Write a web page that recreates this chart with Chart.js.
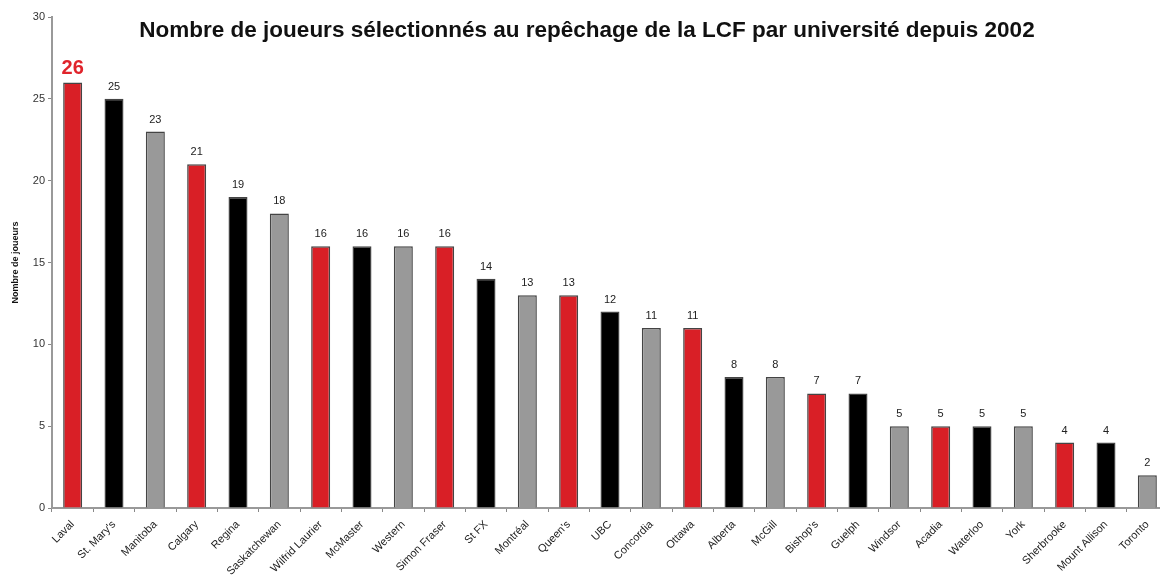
<!DOCTYPE html>
<html>
<head>
<meta charset="utf-8">
<script src="https://cdn.jsdelivr.net/npm/chart.js@4/dist/chart.umd.min.js"></script>
<style>
  html, body { margin: 0; padding: 0; background: #fff; overflow: hidden; }
  #wrap { width: 1180px; height: 582px; }
</style>
</head>
<body>
<div id="wrap"><canvas id="chartBar"></canvas></div>
<script>
const universities = ["Laval", "St. Mary's", "Manitoba", "Calgary", "Regina", "Saskatchewan",
  "Wilfrid Laurier", "McMaster", "Western", "Simon Fraser", "St FX", "Montréal", "Queen's",
  "UBC", "Concordia", "Ottawa", "Alberta", "McGill", "Bishop's", "Guelph", "Windsor",
  "Acadia", "Waterloo", "York", "Sherbrooke", "Mount Allison", "Toronto"];
const players = [26, 25, 23, 21, 19, 18, 16, 16, 16, 16, 14, 13, 13, 12, 11, 11, 8, 8, 7, 7, 5, 5, 5, 5, 4, 4, 2];
const yTicks = [0, 5, 10, 15, 20, 25, 30];
const palette = ['#d91f26', '#000000', '#999999'];
const barColors = universities.map((u, i) => palette[i % 3]);

const FONT = '"Liberation Sans", Arial, sans-serif';
const chartTitle = 'Nombre de joueurs sélectionnés au repêchage de la LCF par université depuis 2002';

// titre + valeurs au-dessus des barres
const labelsPlugin = {
  id: 'labelsPlugin',
  afterDraw(chart) {
    const ctx = chart.ctx;
    ctx.save();
    ctx.fillStyle = '#111';
    ctx.font = 'bold 22.5px ' + FONT;
    ctx.textAlign = 'center';
    ctx.textBaseline = 'alphabetic';
    ctx.fillText(chartTitle, 587, 37);

    const meta = chart.getDatasetMeta(0);
    meta.data.forEach((bar, i) => {
      if (i === 0) {
        ctx.fillStyle = '#e0242b';
        ctx.font = 'bold 20px ' + FONT;
        ctx.fillText(players[i], bar.x, bar.y - 8);
      } else {
        ctx.fillStyle = '#222';
        ctx.font = '11px ' + FONT;
        ctx.fillText(players[i], bar.x, bar.y - 9);
      }
    });
    ctx.restore();
  }
};

new Chart(document.getElementById('chartBar'), {
  type: 'bar',
  data: {
    labels: universities,
    datasets: [{
      data: players,
      backgroundColor: barColors,
      borderColor: '#444',
      borderWidth: 1.5,
      barPercentage: 0.46,
      categoryPercentage: 1
    }]
  },
  options: {
    responsive: true,
    maintainAspectRatio: false,
    animation: false,
    layout: { padding: { top: 17, right: 12, left: 0, bottom: 0 } },
    plugins: {
      legend: { display: false },
      title: { display: false },
      tooltip: { enabled: false }
    },
    scales: {
      x: {
        grid: { display: true, drawOnChartArea: false, offset: true, tickLength: 4, color: '#888', lineWidth: 1 },
        border: { color: '#999', width: 2 },
        ticks: {
          minRotation: 45, maxRotation: 45, autoSkip: false,
          color: '#222', font: { family: FONT, size: 11 }, padding: 6
        },
        afterFit(scale) { scale.height = 74; }
      },
      y: {
        min: 0, max: 30,
        afterBuildTicks(scale) { scale.ticks = yTicks.map(v => ({ value: v })); },
        grid: { display: true, drawOnChartArea: false, tickLength: 4, color: '#888' },
        border: { color: '#999', width: 2 },
        ticks: { color: '#333', font: { family: FONT, size: 11 }, padding: 3 },
        title: {
          display: true, text: 'Nombre de joueurs', color: '#111',
          font: { family: FONT, size: 9, weight: 'bold' }, padding: { top: 10, bottom: 0 }
        },
        afterFit(scale) { scale.width = 52; }
      }
    }
  },
  plugins: [labelsPlugin]
});
</script>
</body>
</html>
